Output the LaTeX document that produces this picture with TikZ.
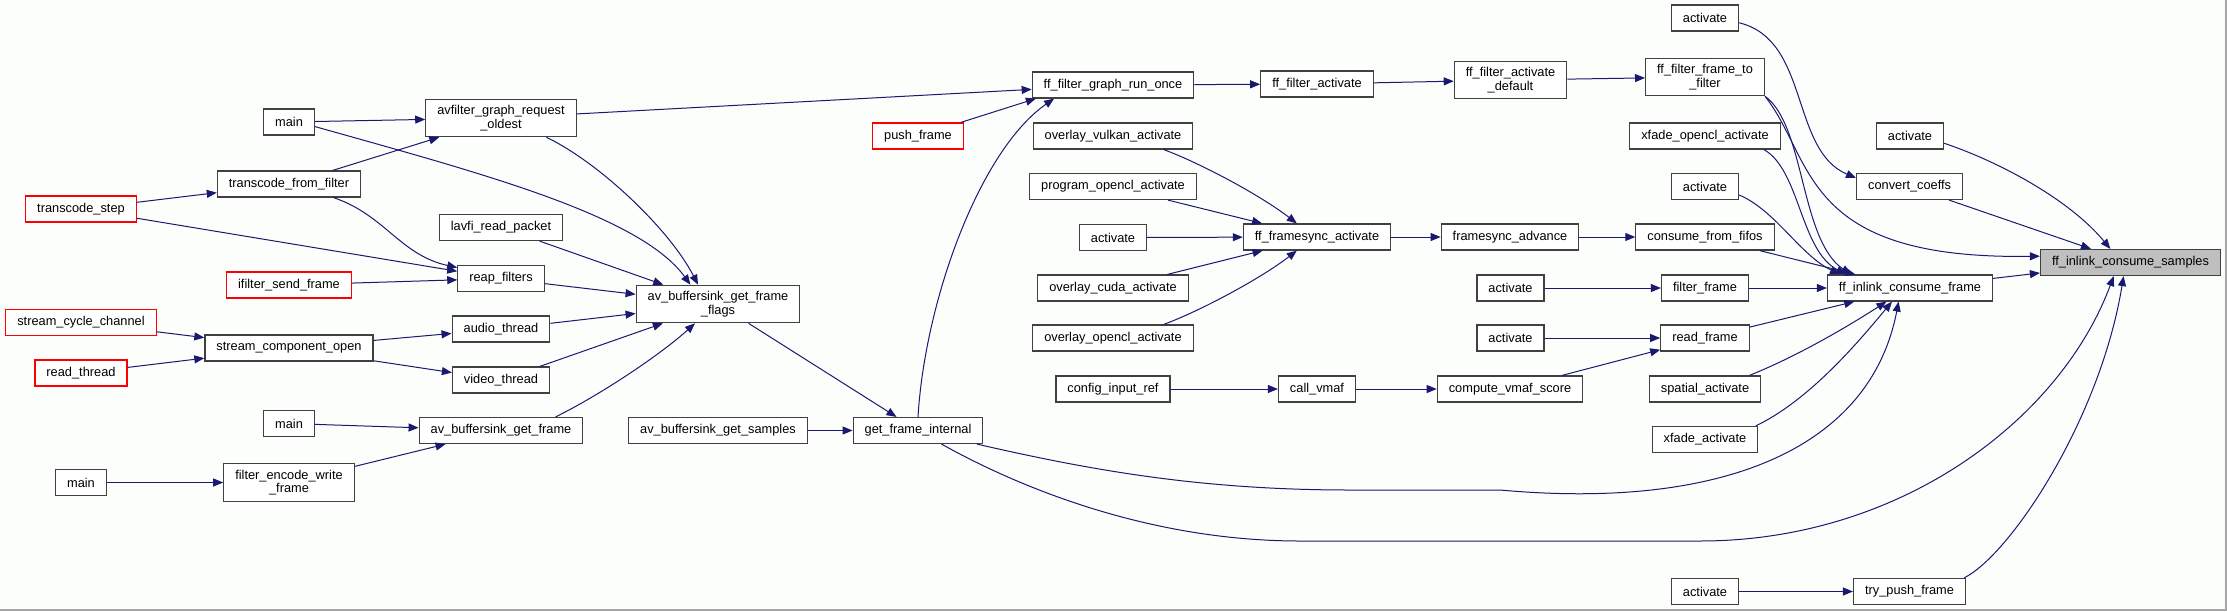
\documentclass[tikz,border=0pt]{standalone}
\usepackage{fontspec}
\setmainfont[Ligatures=NoCommon]{Liberation Sans}
\usetikzlibrary{arrows.meta}
\definecolor{edgeblue}{RGB}{25,25,112}
\definecolor{boxgray}{RGB}{191,191,191}
\definecolor{boxline}{RGB}{64,64,64}
\definecolor{paper}{RGB}{252,254,252}
\definecolor{frameline}{RGB}{165,165,165}

\begin{document}
\begin{tikzpicture}[x=1pt,y=-1pt,
    fn/.style={draw=boxline,line width=1.2pt,fill=white,inner xsep=11.5pt,inner ysep=6pt,
      minimum height=26pt,align=center,font=\fontsize{12.8}{13.5}\selectfont},
    redfn/.style={fn,draw=red},
    callee/.style={fn,fill=boxgray},
    call/.style={draw=edgeblue,line width=1pt,-{Triangle[length=10pt,width=8pt]}}]
\useasboundingbox (0,0) rectangle (2227,611);
\fill[paper] (0,0) rectangle (2227,611);
\draw[frameline,line width=1.5pt] (0,610) -- (2226,610) -- (2226,0);

% callers, left to right
\node[redfn] (transcodestep) at (81,209) {transcode\_step};
\node[redfn] (streamcycle) at (81,322.5) {stream\_cycle\_channel};
\node[redfn] (readthread) at (81,373) {read\_thread};
\node[fn] (mainC) at (81,482.5) {main};
\node[fn] (mainA) at (289,122) {main};
\node[fn] (fromfilter) at (289,184) {transcode\_from\_filter};
\node[redfn] (sendframe) at (289,285) {ifilter\_send\_frame};
\node[fn] (compopen) at (289,348) {stream\_component\_open};
\node[fn] (mainB) at (289,423.5) {main};
\node[fn] (encwrite) at (289,482.5) {filter\_encode\_write\\\_frame};
\node[fn] (reqoldest) at (501,118) {avfilter\_graph\_request\\\_oldest};
\node[fn] (readpacket) at (501,227.5) {lavfi\_read\_packet};
\node[fn] (reapfilters) at (501,278.5) {reap\_filters};
\node[fn] (audiothread) at (501,329) {audio\_thread};
\node[fn] (videothread) at (501,380) {video\_thread};
\node[fn] (getframe) at (501,430.5) {av\_buffersink\_get\_frame};
\node[fn] (getflags) at (718,304) {av\_buffersink\_get\_frame\\\_flags};
\node[fn] (getsamples) at (718,430.5) {av\_buffersink\_get\_samples};
\node[redfn] (pushframe) at (918,136) {push\_frame};
\node[fn] (frameinternal) at (918,430.5) {get\_frame\_internal};
\node[fn] (runonce) at (1113,85) {ff\_filter\_graph\_run\_once};
\node[fn] (vulkan) at (1113,136) {overlay\_vulkan\_activate};
\node[fn] (progopencl) at (1113,186.5) {program\_opencl\_activate};
\node[fn] (actsync) at (1113,237.5) {activate};
\node[fn] (cuda) at (1113,288) {overlay\_cuda\_activate};
\node[fn] (ovlopencl) at (1113,338) {overlay\_opencl\_activate};
\node[fn] (inputref) at (1113,389) {config\_input\_ref};
\node[fn] (filteract) at (1317,84) {ff\_filter\_activate};
\node[fn] (syncact) at (1317,237) {ff\_framesync\_activate};
\node[fn] (callvmaf) at (1317,389) {call\_vmaf};
\node[fn] (actdefault) at (1510.5,80) {ff\_filter\_activate\\\_default};
\node[fn] (syncadv) at (1510,237) {framesync\_advance};
\node[fn] (actfilter) at (1510.5,288) {activate};
\node[fn] (actread) at (1510.5,338) {activate};
\node[fn] (vmafscore) at (1510,389) {compute\_vmaf\_score};
\node[fn] (actcoeffs) at (1705,18) {activate};
\node[fn] (totofilter) at (1705,77) {ff\_filter\_frame\_to\\\_filter};
\node[fn] (xfadeocl) at (1705,136) {xfade\_opencl\_activate};
\node[fn] (actframe) at (1705,186.5) {activate};
\node[fn] (fifos) at (1705,237) {consume\_from\_fifos};
\node[fn] (filterframe) at (1705,288) {filter\_frame};
\node[fn] (readframe) at (1705,338) {read\_frame};
\node[fn] (spatial) at (1705,389) {spatial\_activate};
\node[fn] (xfade) at (1705,439.5) {xfade\_activate};
\node[fn] (actpush) at (1705,591.5) {activate};
\node[fn] (actsamples) at (1910,136) {activate};
\node[fn] (coeffs) at (1909.6,186.5) {convert\_coeffs};
\node[fn] (consframe) at (1910,288) {ff\_inlink\_consume\_frame};
\node[fn] (trypush) at (1909.5,591.5) {try\_push\_frame};
\node[callee] (conssamples) at (2130.5,262.5) {ff\_inlink\_consume\_samples};

% straight calls
\draw[call] (mainA) -- (reqoldest);
\draw[call] (transcodestep) -- (fromfilter);
\draw[call] (transcodestep) -- (reapfilters);
\draw[call] (fromfilter) -- (reqoldest);
\draw[call] (sendframe) -- (reapfilters);
\draw[call] (streamcycle) -- (compopen);
\draw[call] (readthread) -- (compopen);
\draw[call] (compopen) -- (audiothread);
\draw[call] (compopen) -- (videothread);
\draw[call] (mainB) -- (getframe);
\draw[call] (mainC) -- (encwrite);
\draw[call] (encwrite) -- (getframe);
\draw[call] (reqoldest) -- (runonce);
\draw[call] (readpacket) -- (getflags);
\draw[call] (reapfilters) -- (getflags);
\draw[call] (audiothread) -- (getflags);
\draw[call] (videothread) -- (getflags);
\draw[call] (getflags) -- (frameinternal);
\draw[call] (getsamples) -- (frameinternal);
\draw[call] (pushframe) -- (runonce.-170);
\draw[call] (runonce) -- (filteract);
\draw[call] (filteract) -- (actdefault);
\draw[call] (actdefault) -- (totofilter);
\draw[call] (progopencl) -- (syncact);
\draw[call] (actsync) -- (syncact);
\draw[call] (cuda) -- (syncact);
\draw[call] (syncact) -- (syncadv);
\draw[call] (syncadv) -- (fifos);
\draw[call] (actfilter) -- (filterframe);
\draw[call] (actread) -- (readframe);
\draw[call] (vmafscore) -- (readframe);
\draw[call] (inputref) -- (callvmaf);
\draw[call] (callvmaf) -- (vmafscore);
\draw[call] (fifos) -- (consframe);
\draw[call] (filterframe) -- (consframe);
\draw[call] (readframe) -- (consframe);
\draw[call] (coeffs) -- (conssamples);
\draw[call] (consframe) -- (conssamples);
\draw[call] (actpush) -- (trypush);

% curved calls
\draw[call] (mainA.-10) .. controls (480,173) and (640,215) .. (getflags.145);
\draw[call] (reqoldest.-23.5) .. controls (600,163) and (670,230) .. (getflags.136);
\draw[call] (fromfilter.-17.6) .. controls (385,215) and (400,255) .. (reapfilters.166);
\draw[call] (getframe.14) .. controls (600,395) and (660,355) .. (getflags.-140);
\draw[call] (frameinternal.north) .. controls (925,300) and (980,150) .. (runonce.-167.5);
\draw[call] (frameinternal.-13.5) .. controls (1090,470) and (1200,490) .. (1350,490) -- (1500,490)
  .. controls (1720,510) and (1870,450) .. (consframe.-130);
\draw[call] (frameinternal.-30) .. controls (1020,488) and (1150,541) .. (1300,541) -- (1700,541)
  .. controls (1900,541) and (2060,420) .. (conssamples.-141);
\draw[call] (vulkan.-15) .. controls (1200,163) and (1260,195) .. (syncact.146);
\draw[call] (ovlopencl.15) .. controls (1200,311) and (1260,279) .. (syncact.-146);
\draw[call] (actcoeffs.-8) .. controls (1810,40) and (1790,150) .. (coeffs.171);
\draw[call] (totofilter.south east) .. controls (1805,125) and (1800,240) .. (consframe.167);
\draw[call] (totofilter.south east) .. controls (1815,160) and (1800,260) .. (conssamples.176);
\draw[call] (xfadeocl.-13.5) .. controls (1800,170) and (1800,250) .. (consframe.168);
\draw[call] (actframe.-14) .. controls (1775,210) and (1800,255) .. (consframe.169);
\draw[call] (spatial.17) .. controls (1800,355) and (1850,325) .. (consframe.-150);
\draw[call] (xfade.15) .. controls (1810,400) and (1860,340) .. (consframe.-143);
\draw[call] (trypush.14) .. controls (2010,555) and (2100,420) .. (conssamples.-117);
\draw[call] (actsamples.-12) .. controls (2000,162) and (2070,200) .. (conssamples.146);

\end{tikzpicture}
\end{document}
